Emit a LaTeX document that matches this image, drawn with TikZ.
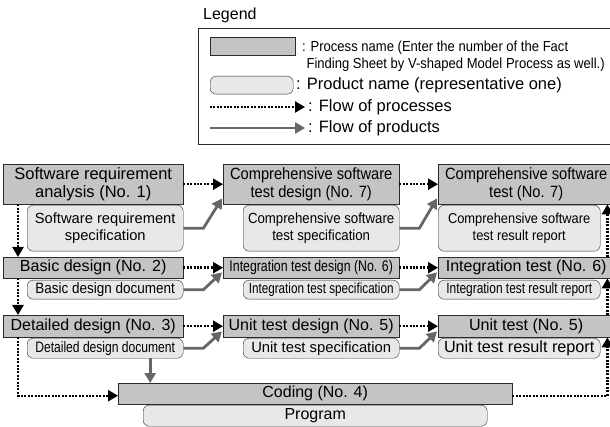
\documentclass[tikz,border=0pt]{standalone}
\usepackage{fontspec}
\setmainfont{Liberation Sans}
\newfontfamily\condfont[FakeStretch=0.8]{Liberation Sans}
\newfontfamily\semifont[FakeStretch=0.9]{Liberation Sans}
\usetikzlibrary{arrows.meta}
\definecolor{procgray}{HTML}{C4C4C4}
\definecolor{prodgray}{HTML}{E8E8E8}
\definecolor{boxline}{HTML}{2B2B2B}
\definecolor{flowgray}{HTML}{666666}
\newcommand{\txtsize}[1]{\fontsize{#1}{#1}\selectfont}
\tikzstyle{procarrow} = [line width=2.4pt,dash pattern=on 2pt off 1.4pt,-{Triangle[length=10pt,width=11pt]}]
\tikzstyle{prodarrow} = [line width=2.8pt,flowgray,-{Triangle[length=10pt,width=11pt]}]

\begin{document}
\begin{tikzpicture}
        [
            x=1pt,y=-1pt,
            proc/.style={rectangle,draw=boxline,fill=procgray,thin,anchor=north west,inner sep=0pt,align=center},
            prod/.style={proc,rounded corners=6pt,fill=prodgray},
            note/.style={anchor=west,inner sep=0pt,align=left},
        ]
    \useasboundingbox (0,0) rectangle (610,427);

    % legend
    \node[note,font=\txtsize{16}] (legendtitle) at (203,15) {Legend};
    \node[rectangle,draw=boxline,thin,anchor=north west,minimum width=416pt,minimum height=116pt] (legendbox) at (198,28) {};
    \node[proc,minimum width=85pt,minimum height=18pt] (lgproc) at (210,37) {};
    \node[prod,minimum width=83pt,minimum height=18pt] (lgprod) at (210,76) {};
    \coordinate (lgdota) at (210,107);
    \coordinate (lgdotb) at (305,107);
    \coordinate (lgsola) at (210,128);
    \coordinate (lgsolb) at (305,128);
    \draw[procarrow] (lgdota) -- (lgdotb);
    \draw[prodarrow] (lgsola) -- (lgsolb);
    \node[note,font=\semifont\txtsize{14.5},text depth=0pt] (lgproctext) at (302,55)
        {: Process name (Enter the number of the Fact\\[3pt]\hspace*{0.3em}Finding Sheet by V-shaped Model Process as well.)};
    \node[note,font=\txtsize{16.5}] (lgprodtext) at (296,85) {: Product name (representative one)};
    \node[note,font=\txtsize{16.5}] (lgdottext) at (308,107) {: Flow of processes};
    \node[note,font=\txtsize{16.5}] (lgsoltext) at (308,128) {: Flow of products};

    % processes and products, row 1
    \node[proc,minimum width=180pt,minimum height=40pt,font=\txtsize{16.5}] (p1) at (3,164)
        {Software requirement\\[2pt]analysis (No. 1)};
    \node[prod,minimum width=156pt,minimum height=46pt,font=\txtsize{14.7}] (d1) at (27,205)
        {Software requirement\\[2pt]specification};
    \node[proc,minimum width=176pt,minimum height=40pt,font=\semifont\txtsize{16.3}] (p7a) at (223,164)
        {Comprehensive software\\[2pt]test design (No. 7)};
    \node[prod,minimum width=156pt,minimum height=46pt,font=\semifont\txtsize{14.7}] (d7a) at (243,205)
        {Comprehensive software\\[2pt]test specification};
    \node[proc,minimum width=176pt,minimum height=40pt,font=\semifont\txtsize{16.3}] (p7b) at (438,164)
        {Comprehensive software\\[2pt]test (No. 7)};
    \node[prod,minimum width=162pt,minimum height=46pt,font=\semifont\txtsize{14.3}] (d7b) at (438,205)
        {Comprehensive software\\[2pt]test result report};

    % row 2
    \node[proc,minimum width=180pt,minimum height=21pt,font=\txtsize{16.1}] (p2) at (3,257) {Basic design (No. 2)};
    \node[prod,minimum width=156pt,minimum height=19pt,font=\semifont\txtsize{15}] (d2) at (27,280) {Basic design document};
    \node[proc,minimum width=176pt,minimum height=21pt,font=\condfont\txtsize{15.4}] (p6a) at (223,257) {Integration test design (No. 6)};
    \node[prod,minimum width=156pt,minimum height=19pt,font=\condfont\txtsize{14.6}] (d6a) at (243,280) {Integration test specification};
    \node[proc,minimum width=176pt,minimum height=21pt,font=\txtsize{16}] (p6b) at (438,257) {Integration test (No. 6)};
    \node[prod,minimum width=162pt,minimum height=19pt,font=\condfont\txtsize{14.9}] (d6b) at (438,280) {Integration test result report};

    % row 3
    \node[proc,minimum width=180pt,minimum height=22pt,font=\txtsize{16}] (p3) at (3,315) {Detailed design (No. 3)};
    \node[prod,minimum width=156pt,minimum height=20pt,font=\condfont\txtsize{15.1}] (d3) at (27,338) {Detailed design document};
    \node[proc,minimum width=176pt,minimum height=22pt,font=\txtsize{16}] (p5a) at (223,315) {Unit test design (No. 5)};
    \node[prod,minimum width=156pt,minimum height=20pt,font=\txtsize{14.8}] (d5a) at (243,338) {Unit test specification};
    \node[proc,minimum width=176pt,minimum height=22pt,font=\txtsize{16.1}] (p5b) at (438,315) {Unit test (No. 5)};
    \node[prod,minimum width=162pt,minimum height=20pt,font=\txtsize{16.2}] (d5b) at (438,338) {Unit test result report};

    % coding
    \node[proc,minimum width=394pt,minimum height=21pt,font=\txtsize{16}] (p4) at (118,383) {Coding (No. 4)};
    \node[prod,minimum width=344pt,minimum height=21pt,font=\txtsize{16}] (d4) at (143,405) {Program};

    % flow of processes
    \foreach \a/\b in {p1/p7a,p7a/p7b,p2/p6a,p6a/p6b,p3/p5a,p5a/p5b}
        \draw[procarrow] (\a.east) -- (\b.west);
    \foreach \a/\b in {p1/p2,p2/p3}
        \draw[procarrow] ([xshift=15pt]\a.south west) -- ([xshift=15pt]\b.north west);
    \draw[procarrow] ([xshift=15pt]p3.south west) |- ([yshift=-2pt]p4.west);
    \draw[procarrow] ([yshift=-2pt]p4.east) -| ([xshift=-7pt]p5b.south east);
    \foreach \a/\b in {p5b/p6b,p6b/p7b}
        \draw[procarrow] ([xshift=-7pt]\a.north east) -- ([xshift=-7pt]\b.south east);

    % flow of products
    \foreach \a/\b in {d1/p7a,d7a/p7b,d2/p6a,d6a/p6b,d3/p5a,d5a/p5b}
        \draw[prodarrow] (\a.east) -- ++(20,0) -- ([xshift=-1pt,yshift=6pt]\b.south west);
    \draw[prodarrow] ([xshift=45pt]d3.south) -- ([xshift=45pt]d3.south |- p4.north);
\end{tikzpicture}
\end{document}
